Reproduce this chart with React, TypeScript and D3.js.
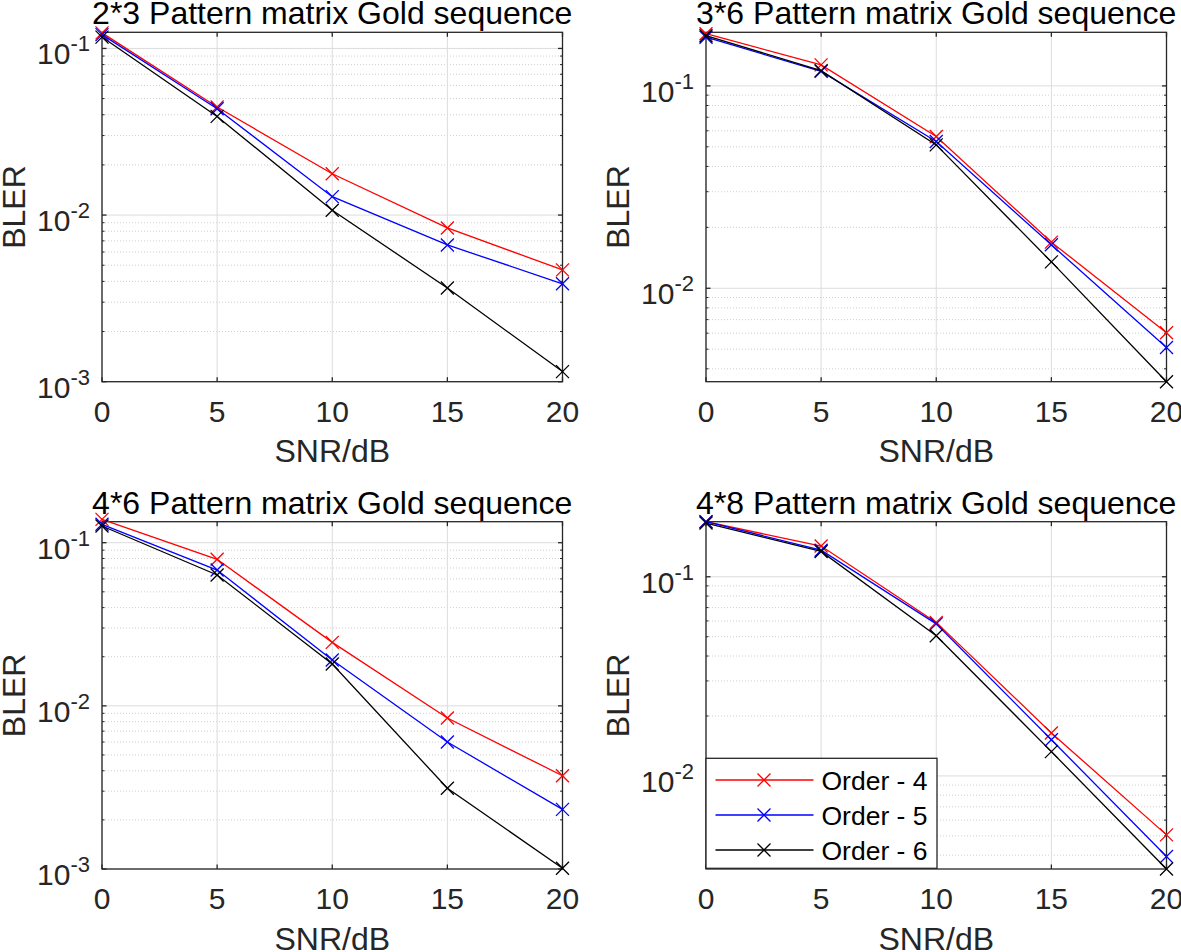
import React from "react";
import * as d3 from "d3";

const snr = [0, 5, 10, 15, 20];
const xTicks = [0, 5, 10, 15, 20];
const seriesNames = ["Order - 4", "Order - 5", "Order - 6"];
const seriesColors = ["#ff0000", "#0000ff", "#000000"];

const titles = [
  "2*3 Pattern matrix Gold sequence",
  "3*6 Pattern matrix Gold sequence",
  "4*6 Pattern matrix Gold sequence",
  "4*8 Pattern matrix Gold sequence",
];

// panel 1 : 2*3
const p1Order4 = [0.124, 0.0445, 0.0177, 0.00837, 0.00469];
const p1Order5 = [0.121, 0.0435, 0.0129, 0.00662, 0.00387];
const p1Order6 = [0.117, 0.0391, 0.0107, 0.00365, 0.00115];
// panel 2 : 3*6
const p2Order4 = [0.181, 0.127, 0.0562, 0.0169, 0.00603];
const p2Order5 = [0.174, 0.118, 0.0531, 0.0164, 0.0051];
const p2Order6 = [0.177, 0.119, 0.0511, 0.0135, 0.00345];
// panel 3 : 4*6
const p3Order4 = [0.139, 0.0791, 0.0245, 0.00842, 0.00373];
const p3Order5 = [0.1297, 0.068, 0.0191, 0.006, 0.00232];
const p3Order6 = [0.1266, 0.0634, 0.01805, 0.003125, 0.00101];
// panel 4 : 4*8
const p4Order4 = [0.189, 0.1426, 0.059, 0.01644, 0.00506];
const p4Order5 = [0.189, 0.136, 0.058, 0.0152, 0.00394];
const p4Order6 = [0.186, 0.134, 0.0506, 0.01324, 0.00341];

const yDomains = [
  [0.001, 0.125],
  [0.003454, 0.184],
  [0.001, 0.1345],
  [0.00341, 0.189],
];
const yTickExponents = [
  [-3, -2, -1],
  [-2, -1],
  [-3, -2, -1],
  [-2, -1],
];

const panelSeries = [
  [p1Order4, p1Order5, p1Order6],
  [p2Order4, p2Order5, p2Order6],
  [p3Order4, p3Order5, p3Order6],
  [p4Order4, p4Order5, p4Order6],
];

const FONT = "'Liberation Sans', Arial, Helvetica, sans-serif";
const AX = "#262626";
const GRID = "#dcdcdc";

type Box = { left: number; right: number; top: number; bottom: number };
const boxes: Box[] = [
  { left: 102, right: 562.5, top: 32.3, bottom: 381.7 },
  { left: 706, right: 1166.5, top: 32.3, bottom: 381.7 },
  { left: 102, right: 562.5, top: 521.7, bottom: 869 },
  { left: 706, right: 1166.5, top: 521.7, bottom: 869 },
];

function XMark({ x, y, color }: { x: number; y: number; color: string }) {
  const s = 6.5;
  return (
    <path
      d={`M${x - s},${y - s}L${x + s},${y + s}M${x - s},${y + s}L${x + s},${y - s}`}
      stroke={color}
      strokeWidth={1.3}
      fill="none"
    />
  );
}

function Panel({ idx, legend }: { idx: number; legend?: boolean }) {
  const b = boxes[idx];
  const x = d3.scaleLinear().domain([0, 20]).range([b.left, b.right]);
  const y = d3.scaleLog().domain(yDomains[idx]).range([b.bottom, b.top]);
  const [lo, hi] = yDomains[idx];
  const minor: number[] = [];
  for (let e = Math.floor(Math.log10(lo)); e <= Math.ceil(Math.log10(hi)); e++) {
    for (let k = 2; k <= 9; k++) {
      const v = k * Math.pow(10, e);
      if (v > lo * 1.0001 && v < hi * 0.9999) minor.push(v);
    }
  }
  const majors = yTickExponents[idx].map((e) => Math.pow(10, e));
  const line = d3
    .line<number>()
    .x((_, i) => x(snr[i]))
    .y((d) => y(d));
  const cx = (b.left + b.right) / 2;
  const cy = (b.top + b.bottom) / 2;
  return (
    <g>
      {/* minor grid */}
      {minor.map((v, i) => (
        <line
          key={"mg" + i}
          x1={b.left}
          x2={b.right}
          y1={y(v)}
          y2={y(v)}
          stroke="#cfcfcf"
          strokeWidth={1}
          strokeDasharray="1,2"
        />
      ))}
      {/* major grid */}
      {majors.map((v, i) => (
        <line key={"My" + i} x1={b.left} x2={b.right} y1={y(v)} y2={y(v)} stroke={GRID} strokeWidth={1} />
      ))}
      {xTicks.map((t, i) => (
        <line key={"Mx" + i} x1={x(t)} x2={x(t)} y1={b.top} y2={b.bottom} stroke={GRID} strokeWidth={1} />
      ))}
      {/* box */}
      <rect x={b.left} y={b.top} width={b.right - b.left} height={b.bottom - b.top} fill="none" stroke={AX} strokeWidth={1.3} />
      {/* ticks */}
      {xTicks.map((t, i) => (
        <g key={"xt" + i}>
          <line x1={x(t)} x2={x(t)} y1={b.bottom} y2={b.bottom - 4.5} stroke={AX} strokeWidth={1.3} />
          <line x1={x(t)} x2={x(t)} y1={b.top} y2={b.top + 4.5} stroke={AX} strokeWidth={1.3} />
          <text x={x(t)} y={b.bottom + 40} textAnchor="middle" fontSize={30} fontFamily={FONT} fill={AX}>
            {t}
          </text>
        </g>
      ))}
      {majors.map((v, i) => (
        <g key={"yt" + i}>
          <line x1={b.left} x2={b.left + 4.5} y1={y(v)} y2={y(v)} stroke={AX} strokeWidth={1.3} />
          <line x1={b.right} x2={b.right - 4.5} y1={y(v)} y2={y(v)} stroke={AX} strokeWidth={1.3} />
          <text x={b.left - 12} y={y(v) + 16} textAnchor="end" fontSize={30} fontFamily={FONT} fill={AX}>
            10
            <tspan dy={-13} fontSize={22}>
              {"-" + Math.abs(yTickExponents[idx][i])}
            </tspan>
          </text>
        </g>
      ))}
      {minor.map((v, i) => (
        <g key={"ymt" + i}>
          <line x1={b.left} x2={b.left + 2.5} y1={y(v)} y2={y(v)} stroke={AX} strokeWidth={1} />
          <line x1={b.right} x2={b.right - 2.5} y1={y(v)} y2={y(v)} stroke={AX} strokeWidth={1} />
        </g>
      ))}
      {/* series */}
      {panelSeries[idx].map((s, si) => (
        <g key={"s" + si}>
          <path d={line(s) || ""} fill="none" stroke={seriesColors[si]} strokeWidth={1.3} />
          {s.map((v, i) => (
            <XMark key={i} x={x(snr[i])} y={y(v)} color={seriesColors[si]} />
          ))}
        </g>
      ))}
      {/* title & labels */}
      <text x={cx} y={b.top - 8} textAnchor="middle" fontSize={32} fontFamily={FONT} fill="#000">
        {titles[idx]}
      </text>
      <text x={cx} y={b.bottom + 80.5} textAnchor="middle" fontSize={32} fontFamily={FONT} fill={AX}>
        SNR/dB
      </text>
      <text
        transform={`translate(${b.left - 77},${cy}) rotate(-90)`}
        textAnchor="middle"
        fontSize={32}
        fontFamily={FONT}
        fill={AX}
      >
        BLER
      </text>
      {legend && (
        <g>
          <rect x={b.left} y={758.3} width={231} height={110} fill="#fff" stroke={AX} strokeWidth={1.3} />
          {seriesNames.map((n, i) => {
            const ry = 780 + i * 35;
            return (
              <g key={"lg" + i}>
                <line x1={b.left + 9.5} x2={b.left + 107.5} y1={ry} y2={ry} stroke={seriesColors[i]} strokeWidth={1.3} />
                <XMark x={b.left + 58} y={ry} color={seriesColors[i]} />
                <text x={b.left + 115.5} y={ry + 9.5} fontSize={26.5} fontFamily={FONT} fill="#000">
                  {n}
                </text>
              </g>
            );
          })}
        </g>
      )}
    </g>
  );
}

export default function App() {
  return (
    <svg
      width={1181}
      height={952}
      style={{ position: "absolute", left: 0, top: 0, background: "#fff" }}
    >
      <rect width={1181} height={952} fill="#fff" />
      <Panel idx={0} />
      <Panel idx={1} />
      <Panel idx={2} />
      <Panel idx={3} legend />
    </svg>
  );
}
